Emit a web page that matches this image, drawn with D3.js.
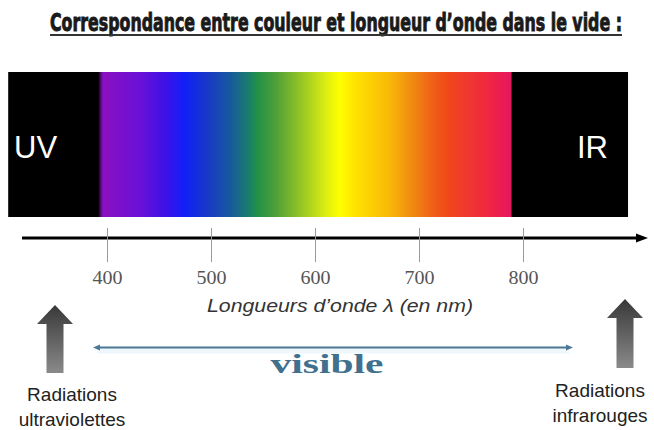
<!DOCTYPE html>
<html><head><meta charset="utf-8">
<script src="https://cdn.jsdelivr.net/npm/d3@7"></script>
<style>html,body{margin:0;padding:0;background:#fff;} svg{display:block}</style>
</head><body><svg id="c" width="654" height="430"></svg>
<script>
// ---- data ----
const titleText = "Correspondance entre couleur et longueur d’onde dans le vide :";
const tickValues = [400, 500, 600, 700, 800];
const bandNm = [305, 901];            // black band (UV ... IR)
const spectrumNm = [392, 396, 432, 458, 475, 496, 518, 535, 544, 563, 593, 612, 624, 640, 672, 691, 713, 727, 746, 765, 785, 789];
const spectrumColors = ["#1a0424", "#8a10c0", "#6a10d8", "#3a12e8", "#1020f8", "#1838c8", "#1858a0", "#1a7a70", "#209048", "#50a038", "#a8d020", "#e0f010", "#ffff00", "#ffe000", "#f8b808", "#f09010", "#f06018", "#f04818", "#f03830", "#f02840", "#e81858", "#e01860"];
const bandLabels = ["UV", "IR"];
const axisTitle = "Longueurs d’onde λ (en nm)";
const visibleLabel = "visible";
const sideLabels = [["Radiations", "ultraviolettes"], ["Radiations", "infrarouges"]];

// ---- drawing ----
const svg = d3.select("#c");
const x = d3.scaleLinear().domain([400, 800]).range([107, 523]);
const defs = svg.append("defs");

// Title: fit natural width to 572px, then stretch vertically
const titleG = svg.append("g");
const title = titleG.append("text")
  .attr("x", 0).attr("y", 0)
  .style("font-family", "'Liberation Sans Narrow','DejaVu Sans Condensed','Roboto Condensed',sans-serif")
  .style("font-stretch", "condensed")
  .style("font-weight", "bold").style("font-size", "25px").style("fill", "#1a1a1a")
  .style("stroke", "#1a1a1a").style("stroke-width", "0.9px")
  .text(titleText);
const natural = title.node().getComputedTextLength();
const fs = 25 * 572 / natural;
title.style("font-size", fs + "px").style("stroke-width", (0.9 * fs / 25) + "px");
titleG.attr("transform", `translate(50,31) scale(1,${25 / fs})`);
svg.append("line").attr("x1", 50).attr("x2", 622).attr("y1", 35).attr("y2", 35)
  .attr("stroke", "#333").attr("stroke-width", 2);

// Black band
const bandTop = 72, bandBottom = 217;
svg.append("rect")
  .attr("x", x(bandNm[0])).attr("y", bandTop)
  .attr("width", x(bandNm[1]) - x(bandNm[0])).attr("height", bandBottom - bandTop)
  .attr("fill", "#000");

// Spectrum gradient
const sx0 = x(spectrumNm[0]), sx1 = x(spectrumNm[spectrumNm.length - 1]);
const grad = defs.append("linearGradient").attr("id", "spec")
  .attr("gradientUnits", "userSpaceOnUse")
  .attr("x1", sx0).attr("x2", sx1).attr("y1", 0).attr("y2", 0);
grad.selectAll("stop").data(spectrumNm).join("stop")
  .attr("offset", d => (x(d) - sx0) / (sx1 - sx0))
  .attr("stop-color", (d, i) => spectrumColors[i]);
svg.append("rect")
  .attr("x", sx0).attr("y", bandTop).attr("width", sx1 - sx0).attr("height", bandBottom - bandTop)
  .attr("fill", "url(#spec)");

// UV / IR labels
svg.selectAll("text.band").data(bandLabels).join("text").attr("class", "band")
  .attr("x", (d, i) => i === 0 ? 14 : 577).attr("y", 158)
  .style("font-family", "'Liberation Sans',Arial,sans-serif").style("font-size", "31px")
  .style("fill", "#fff")
  .text(d => d);

// Axis line with arrow
const axisY = 238;
svg.append("line").attr("x1", 22).attr("x2", 640).attr("y1", axisY).attr("y2", axisY)
  .attr("stroke", "#000").attr("stroke-width", 3);
svg.append("path")
  .attr("d", d3.line()([[636, axisY - 4.5], [648, axisY], [636, axisY + 4.5]]) + "Z")
  .attr("fill", "#000");

// Ticks via d3 axis
const axisG = svg.append("g").attr("transform", "translate(0,228)")
  .call(d3.axisBottom(x).tickValues(tickValues).tickSize(34).tickPadding(9).tickFormat(d3.format("d")));
axisG.select(".domain").remove();
axisG.selectAll(".tick line").attr("stroke", "#9a9a9a").attr("stroke-width", 1);
axisG.selectAll(".tick text")
  .attr("textLength", 30).attr("lengthAdjust", "spacingAndGlyphs")
  .style("font-family", "'Liberation Serif','Times New Roman',serif")
  .style("font-size", "18px").style("fill", "#555");

// Axis title
svg.append("text")
  .attr("x", 340).attr("y", 312).attr("text-anchor", "middle")
  .attr("textLength", 266).attr("lengthAdjust", "spacingAndGlyphs")
  .style("font-family", "'Liberation Sans',Arial,sans-serif").style("font-style", "italic")
  .style("font-size", "18px").style("fill", "#333")
  .text(axisTitle);

// Gray up arrows
const ag = defs.append("linearGradient").attr("id", "arrowGrad")
  .attr("x1", 0).attr("x2", 0).attr("y1", 0).attr("y2", 1);
ag.append("stop").attr("offset", 0).attr("stop-color", "#383838");
ag.append("stop").attr("offset", 1).attr("stop-color", "#8a8a8a");
const arrows = [{cx: 55, tip: 305, bottom: 373}, {cx: 625, tip: 299, bottom: 368}];
svg.selectAll("path.up").data(arrows).join("path").attr("class", "up")
  .attr("d", a => d3.line()([
    [a.cx, a.tip], [a.cx + 18, a.tip + 19], [a.cx + 8.5, a.tip + 19], [a.cx + 8.5, a.bottom],
    [a.cx - 8.5, a.bottom], [a.cx - 8.5, a.tip + 19], [a.cx - 18, a.tip + 19]]) + "Z")
  .attr("fill", "url(#arrowGrad)");

// Visible double arrow
const vy = 347.5, vx0 = 93, vx1 = 573;
svg.append("rect").attr("x", vx0 + 4).attr("y", vy - 1).attr("width", vx1 - vx0 - 8).attr("height", 7)
  .attr("fill", "#eef7fb");
svg.append("line").attr("x1", vx0 + 4).attr("x2", vx1 - 4).attr("y1", vy).attr("y2", vy)
  .attr("stroke", "#4c7896").attr("stroke-width", 2);
svg.append("path").attr("d", d3.line()([[vx0, vy], [vx0 + 7, vy - 3], [vx0 + 7, vy + 3]]) + "Z").attr("fill", "#4c7896");
svg.append("path").attr("d", d3.line()([[vx1, vy], [vx1 - 7, vy - 3], [vx1 - 7, vy + 3]]) + "Z").attr("fill", "#4c7896");
svg.append("text")
  .attr("x", 327).attr("y", 373).attr("text-anchor", "middle")
  .attr("textLength", 113).attr("lengthAdjust", "spacingAndGlyphs")
  .style("font-family", "'Liberation Serif','Times New Roman',serif")
  .style("font-weight", "bold")
  .style("font-size", "27px").style("fill", "#41708e")
  .text(visibleLabel);

// Side labels
const sidePos = [{cx: 72, y: [401, 426]}, {cx: 600, y: [397, 422]}];
sideLabels.forEach((lines, i) => {
  svg.selectAll(null).data(lines).join("text")
    .attr("x", sidePos[i].cx).attr("y", (d, j) => sidePos[i].y[j]).attr("text-anchor", "middle")
    .style("font-family", "'Liberation Sans',Arial,sans-serif").style("font-size", "19px")
    .style("fill", "#222")
    .text(d => d);
});
</script></body></html>
